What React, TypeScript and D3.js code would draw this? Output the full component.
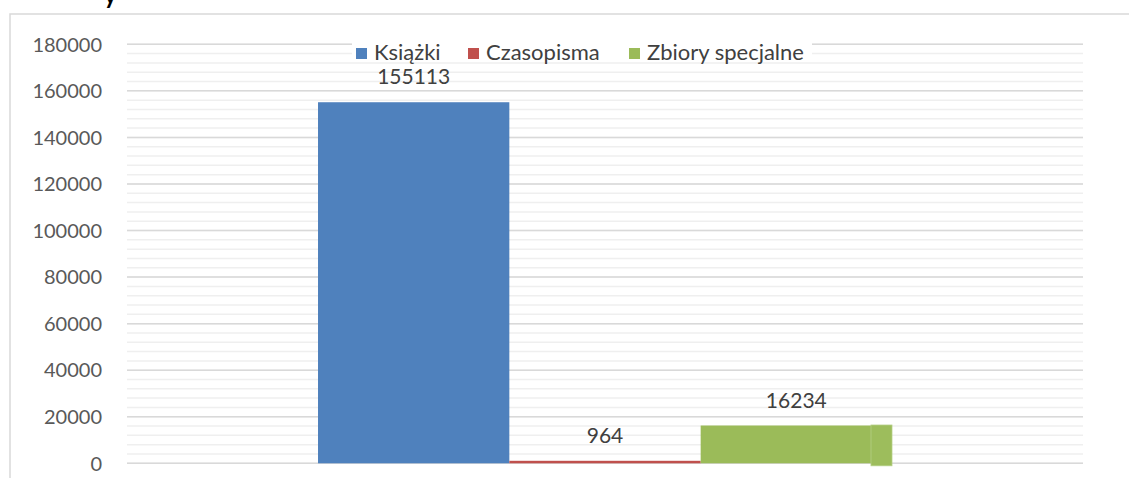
import React from "react";
import * as d3 from "d3";

// one category, three series
const categories = [""];
const seriesNames = ["Książki", "Czasopisma", "Zbiory specjalne"];
const seriesValues = [155113, 964, 16234];
const seriesColors = ["#4f81bd", "#c0504d", "#9bbb59"];
const yTicks = [0, 20000, 40000, 60000, 80000, 100000, 120000, 140000, 160000, 180000];

const W = 1129;
const H = 478;
const plot = { left: 127, right: 1083, top: 44.3, bottom: 463.3 };
const font = "Lato, 'Noto Sans', sans-serif";

export default function App() {
  const y = d3.scaleLinear().domain([0, 180000]).range([plot.bottom, plot.top]);
  const minorTicks = d3.range(0, 180001, 4000);

  const x0 = d3
    .scaleBand()
    .domain(categories)
    .range([plot.left, plot.right])
    .paddingInner(0)
    .paddingOuter(0.3328);
  const x1 = d3.scaleBand().domain(seriesNames).range([0, x0.bandwidth()]).padding(0);

  // legend layout (x of each marker)
  const legendX = [356, 468, 629];

  return (
    <svg width={W} height={H} style={{ position: "absolute", left: 0, top: 0, background: "#fff" }}>
      {/* cut-off title */}
      <text x={104} y={4} fontFamily={font} fontWeight="bold" fontSize={24} fill="#000">
        y
      </text>

      {/* outer frame */}
      <rect x={10} y={14} width={W + 20} height={H + 20} fill="none" stroke="#d9d9d9" strokeWidth={1.5} />

      {/* minor grid */}
      {minorTicks.map(t => (
        <line
          key={"m" + t}
          x1={plot.left}
          x2={plot.right}
          y1={y(t)}
          y2={y(t)}
          stroke="#efefef"
          strokeWidth={1.5}
        />
      ))}
      {/* major grid */}
      {yTicks.map(t => (
        <line
          key={"g" + t}
          x1={plot.left}
          x2={plot.right}
          y1={y(t)}
          y2={y(t)}
          stroke="#d9d9d9"
          strokeWidth={1.5}
        />
      ))}

      {/* y tick labels */}
      {yTicks.map(t => (
        <text
          key={"t" + t}
          x={102}
          y={y(t)}
          dy="0.36em"
          textAnchor="end"
          fontFamily={font}
          fontSize={20}
          fill="#595959"
        >
          {t}
        </text>
      ))}

      {/* bars */}
      {categories.map(c => (
        <g key={c} transform={`translate(${x0(c)},0)`}>
          {seriesNames.map((s, i) => {
            const bx = x1(s) as number;
            const bw = x1.bandwidth();
            const top = y(seriesValues[i]);
            const h = Math.max(y(0) - top, 2.5);
            return (
              <g key={s}>
                <rect x={bx} y={y(0) - h} width={bw} height={h} fill={seriesColors[i]} />
                {i === 2 && (
                  <rect
                    x={bx + bw - 21}
                    y={top - 0.5}
                    width={21}
                    height={y(0) - top + 3}
                    fill="#9dbd5c"
                    stroke="#b5cf85"
                    strokeWidth={0.8}
                  />
                )}
                <text
                  x={bx + bw / 2}
                  y={top - 18}
                  textAnchor="middle"
                  fontFamily={font}
                  fontSize={21}
                  fill="#404040"
                >
                  {seriesValues[i]}
                </text>
              </g>
            );
          })}
        </g>
      ))}

      {/* legend */}
      <rect x={352} y={40} width={460} height={19} fill="#fff" />
      {seriesNames.map((s, i) => (
        <g key={"l" + s}>
          <rect x={legendX[i]} y={48} width={11} height={11} fill={seriesColors[i]} />
          <text x={legendX[i] + 18} y={60} fontFamily={font} fontSize={22} fill="#404040">
            {s}
          </text>
        </g>
      ))}
    </svg>
  );
}
